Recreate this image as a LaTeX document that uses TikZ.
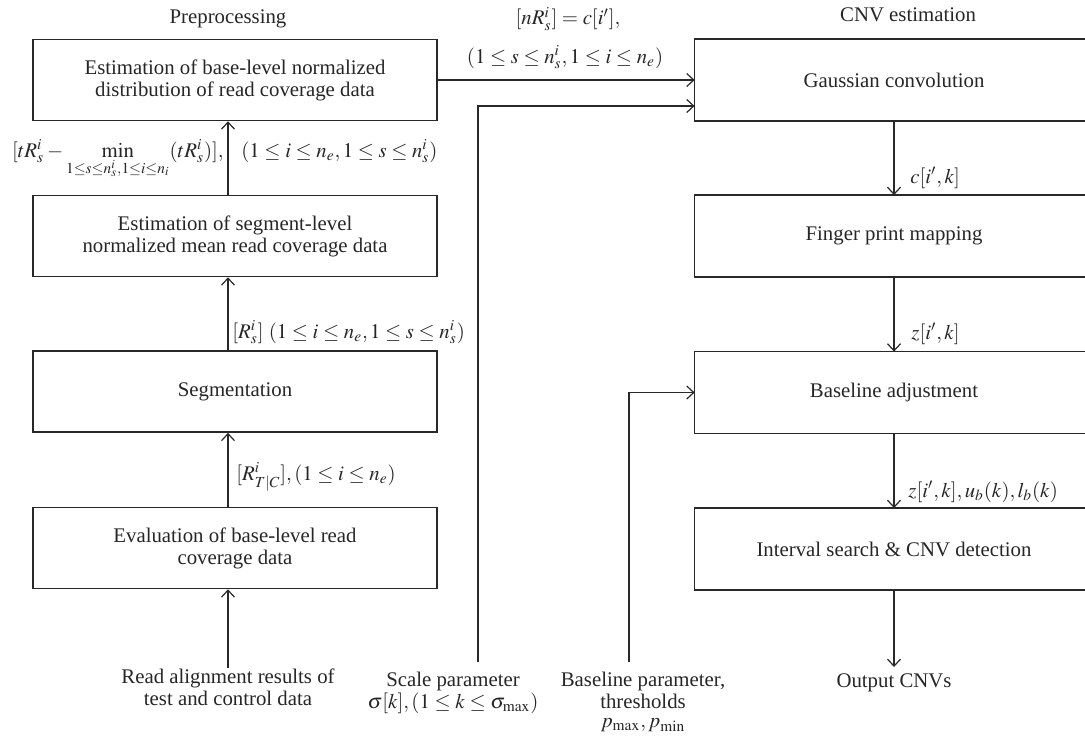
\documentclass[tikz,border=0pt]{standalone}
\usepackage{mathptmx}
\usepackage{fontspec}
\setmainfont{Liberation Serif}
\usetikzlibrary{arrows.meta}
\definecolor{linec}{RGB}{40,40,40}
\newcommand\diafont{\fontsize{10.4}{11}\selectfont}

\tikzset{
  procbox/.style={draw=linec, line width=0.8pt, minimum width=202pt, minimum height=40.5pt, align=center, inner sep=0pt},
  estbox/.style={minimum width=199pt, minimum height=40.5pt, align=center, inner sep=0pt},
  flow/.style={draw=linec, line width=0.6pt, -{Straight Barb[length=3.5pt,width=6.5pt]}},
  lab/.style={inner sep=0pt},
}

\begin{document}
\begin{tikzpicture}[x=0.5pt, y=-0.5pt, font=\diafont, text=black!85]
  \useasboundingbox (0,0) rectangle (1085,744);
  \clip (0,0) rectangle (1085,744);
  % column heads
  \node[lab, anchor=base] (prehead) at (228,23) {Preprocessing};
  \node[lab, anchor=base] (cnvhead) at (908,21) {CNV estimation};
  % preprocessing boxes
  \node[procbox] (normb) at (235,80) {Estimation of base-level normalized\\distribution of read coverage data};
  \node[procbox] (meanb) at (235,236) {Estimation of segment-level\\normalized mean read coverage data};
  \node[procbox] (segb) at (235,391.5) {Segmentation};
  \node[procbox] (evalb) at (235,548) {Evaluation of base-level read\\coverage data};
  % CNV estimation boxes, open to the right
  \node[estbox] (gauss) at (894,80) {Gaussian convolution};
  \node[estbox] (finger) at (894,236) {Finger print mapping};
  \node[estbox] (baseadj) at (894,392.5) {Baseline adjustment};
  \node[estbox] (interval) at (894,549) {Interval search \& CNV detection};
  \foreach \b in {gauss,finger,baseadj,interval}
    \draw[draw=linec, line width=0.8pt] ([xshift=100pt]\b.north east) -- (\b.north west) -- (\b.south west) -- ([xshift=100pt]\b.south east);
  % inputs and output
  \node[lab, align=center, anchor=north] (readin) at (228,668) {Read alignment results of\\test and control data};
  \node[lab, align=center, anchor=north] (scalein) at (453,672) {Scale parameter\\$\sigma[k], (1\le k\le \sigma_{\max})$};
  \node[lab, align=center, anchor=north] (basein) at (643,672) {Baseline parameter,\\thresholds\\[-1.5pt]$p_{\max}, p_{\min}$};
  \node[align=center, anchor=north, inner sep=3pt] (outcnv) at (894,667) {Output CNVs};
  \coordinate (scalefoot) at (478,662);
  \coordinate (basefoot) at (629,662);
  % preprocessing flow
  \draw[flow] (readin.north) -- (evalb.south -| readin.north);
  \draw[flow] (evalb.north -| readin.north) -- (segb.south -| readin.north);
  \draw[flow] (segb.north -| readin.north) -- (meanb.south -| readin.north);
  \draw[flow] (meanb.north -| readin.north) -- (normb.south -| readin.north);
  \draw[flow] (normb.east) -- (normb.east -| gauss.west);
  % estimation flow
  \draw[flow] (gauss.south) -- (finger.north);
  \draw[flow] (finger.south) -- (baseadj.north);
  \draw[flow] (baseadj.south) -- (interval.north);
  \draw[flow] (interval.south) -- (outcnv.north);
  \draw[flow] (scalefoot) |- ([yshift=-13pt]gauss.west);
  \draw[flow] (basefoot) |- (baseadj.west);
  % labels on the connectors
  \node[lab, anchor=base east] (minlab) at (224,157) {$[tR_s^i - \min\limits_{1\le s\le n_s^i,1\le i\le n_i}(tR_s^i)],$};
  \node[lab, anchor=base west] (rangelab) at (241,157) {$(1\le i\le n_e, 1\le s\le n_s^i)$};
  \node[lab, anchor=base west] (rslab) at (232,338) {$[R_s^i]$ $(1\le i\le n_e, 1\le s\le n_s^i)$};
  \node[lab, anchor=base west] (rtclab) at (236,480) {$[R^i_{T|C}], (1\le i\le n_e)$};
  \node[lab, anchor=base] (nrlab) at (568,25) {$[nR_s^i] = c[i'],$};
  \node[lab, anchor=base] (nrrange) at (565,63) {$(1\le s\le n_s^i, 1\le i\le n_e)$};
  \node[lab, anchor=base west] (clab) at (910,183) {$c[i', k]$};
  \node[lab, anchor=base west] (zlab) at (911,339) {$z[i', k]$};
  \node[lab, anchor=base west] (zullab) at (908,497) {$z[i', k], u_b(k), l_b(k)$};
\end{tikzpicture}
\end{document}
